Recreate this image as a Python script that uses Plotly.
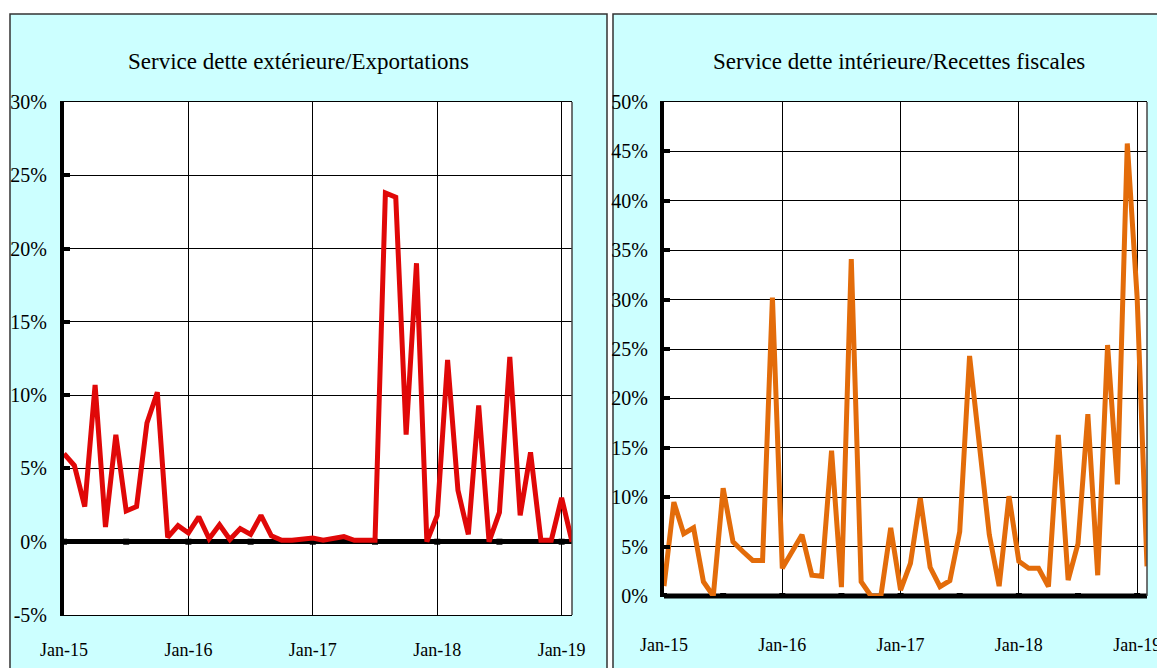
import plotly.graph_objects as go

# ---- data ----
month_labels = ["Jan-15", "Jan-16", "Jan-17", "Jan-18", "Jan-19"]
months = list(range(50))  # Jan-15 .. Feb-19, monthly
label_months = [0, 12, 24, 36, 48]
minor_tick_months = [0, 6, 12, 18, 24, 30, 36, 42, 48]

ext_title = "Service dette extérieure/Exportations"
int_title = "Service dette intérieure/Recettes fiscales"

ext_debt_exports = [6.0, 5.2, 2.4, 10.7, 1.0, 7.3, 2.1, 2.4, 8.1, 10.2,
                    0.3, 1.1, 0.6, 1.7, 0.2, 1.15, 0.15, 0.9, 0.5, 1.8,
                    0.4, 0.1, 0.1, 0.2, 0.25, 0.1, 0.25, 0.35, 0.1, 0.1,
                    0.1, 23.8, 23.5, 7.3, 19.0, 0.0, 1.8, 12.4, 3.5, 0.5,
                    9.3, 0.0, 2.0, 12.6, 1.8, 6.1, 0.1, 0.1, 3.0, 0.0]

int_debt_revenue = [1.0, 9.5, 6.3, 6.9, 1.45, 0.0, 10.9, 5.5, 4.5, 3.6,
                    3.6, 30.2, 2.8, 4.5, 6.2, 2.1, 2.0, 14.7, 0.9, 34.1,
                    1.45, 0.0, 0.0, 6.9, 0.6, 3.3, 9.9, 2.9, 0.95, 1.55,
                    6.5, 24.3, 15.1, 6.2, 1.0, 10.1, 3.5, 2.8, 2.8, 0.95,
                    16.3, 1.6, 5.3, 18.4, 2.1, 25.4, 11.3, 45.8, 30.2, 3.0]

ext_yticks = [-5, 0, 5, 10, 15, 20, 25, 30]
ext_ylabels = ["-5%", "0%", "5%", "10%", "15%", "20%", "25%", "30%"]
int_yticks = [0, 5, 10, 15, 20, 25, 30, 35, 40, 45, 50]
int_ylabels = ["0%", "5%", "10%", "15%", "20%", "25%", "30%", "35%", "40%", "45%", "50%"]

# page places the figure with an 8px body margin
OFF = 8
W, H = 1165 - OFF, 668 - OFF
FONT = "Liberation Serif"

def px_x(v):
    return (v - OFF) / W

def px_y(v):
    return 1 - (v - OFF) / H

fig = go.Figure()

# minor tick marks on the zero line (drawn first, beneath the series)
fig.add_trace(go.Scatter(x=minor_tick_months, y=[0] * len(minor_tick_months), mode="markers",
                         marker=dict(symbol="square", size=6, color="black"),
                         xaxis="x", yaxis="y", hoverinfo="skip", showlegend=False))
fig.add_trace(go.Scatter(x=months, y=ext_debt_exports, mode="lines",
                         line=dict(color="#E00808", width=5),
                         xaxis="x", yaxis="y", hoverinfo="skip", showlegend=False))

fig.add_trace(go.Scatter(x=minor_tick_months, y=[0] * len(minor_tick_months), mode="markers",
                         marker=dict(symbol="square", size=6, color="black"),
                         xaxis="x2", yaxis="y2", hoverinfo="skip", showlegend=False))
fig.add_trace(go.Scatter(x=months, y=int_debt_revenue, mode="lines",
                         line=dict(color="#E36C0A", width=5),
                         xaxis="x2", yaxis="y2", hoverinfo="skip", showlegend=False))

common_x = dict(
    tickmode="array", tickvals=label_months, ticktext=month_labels,
    showgrid=True, gridcolor="black", gridwidth=1,
    showline=True, linecolor="black", linewidth=1, mirror=True,
    ticks="", zeroline=False, automargin=False,
    tickfont=dict(family=FONT, size=18, color="black"),
    range=[0, 49], fixedrange=True,
)
common_y = dict(
    tickmode="array",
    showgrid=True, gridcolor="black", gridwidth=1,
    showline=True, linecolor="black", linewidth=4,
    ticks="inside", ticklen=6, tickwidth=4, tickcolor="black",
    zeroline=True, zerolinecolor="black", zerolinewidth=5,
    automargin=False,
    tickfont=dict(family=FONT, size=20, color="black"),
    fixedrange=True,
)

fig.update_layout(
    width=W, height=H,
    margin=dict(l=0, r=0, t=0, b=0, autoexpand=False),
    paper_bgcolor="white", plot_bgcolor="white",
    showlegend=False,
    xaxis=dict(domain=[px_x(64), px_x(572)], anchor="y", ticklabelstandoff=18, **common_x),
    yaxis=dict(domain=[px_y(615), px_y(102)], anchor="x", range=[-5, 30],
               tickvals=ext_yticks, ticktext=ext_ylabels, ticklabelstandoff=9, **common_y),
    xaxis2=dict(domain=[px_x(664), px_x(1147)], anchor="y2", ticklabelstandoff=32, **common_x),
    yaxis2=dict(domain=[px_y(596), px_y(102)], anchor="x2", range=[0, 50],
                tickvals=int_yticks, ticktext=int_ylabels, ticklabelstandoff=8, **common_y),
)

# panel backgrounds
fig.add_shape(type="rect", xref="paper", yref="paper", layer="below",
              x0=px_x(10), x1=px_x(607), y0=px_y(690), y1=px_y(14),
              fillcolor="#CCFFFF", line=dict(color="#333333", width=1.5))
fig.add_shape(type="rect", xref="paper", yref="paper", layer="below",
              x0=px_x(613), x1=px_x(1190), y0=px_y(690), y1=px_y(14),
              fillcolor="#CCFFFF", line=dict(color="#333333", width=1.5))
# plot-area backgrounds (white)
fig.add_shape(type="rect", xref="x domain", yref="y domain", layer="below",
              x0=0, x1=1, y0=0, y1=1, fillcolor="white", line=dict(width=0))
fig.add_shape(type="rect", xref="x2 domain", yref="y2 domain", layer="below",
              x0=0, x1=1, y0=0, y1=1, fillcolor="white", line=dict(width=0))
# right plot-area edges
for xr, yr in (("x domain", "y domain"), ("x2 domain", "y2 domain")):
    fig.add_shape(type="line", xref=xr, yref=yr, x0=1, x1=1, y0=0, y1=1,
                  line=dict(color="#444444", width=1.5))
# heavy base line of the right chart (0%)
fig.add_shape(type="line", xref="x2 domain", yref="y2 domain", layer="below",
              x0=0, x1=1, y0=0, y1=0, line=dict(color="black", width=5))

# titles
fig.add_annotation(text=ext_title, xref="paper", yref="paper",
                   x=px_x(298), y=px_y(61), xanchor="center", yanchor="middle",
                   showarrow=False, font=dict(family=FONT, size=23, color="black"))
fig.add_annotation(text=int_title, xref="paper", yref="paper",
                   x=px_x(899), y=px_y(61), xanchor="center", yanchor="middle",
                   showarrow=False, font=dict(family=FONT, size=23, color="black"))

fig.write_html("out.html")
